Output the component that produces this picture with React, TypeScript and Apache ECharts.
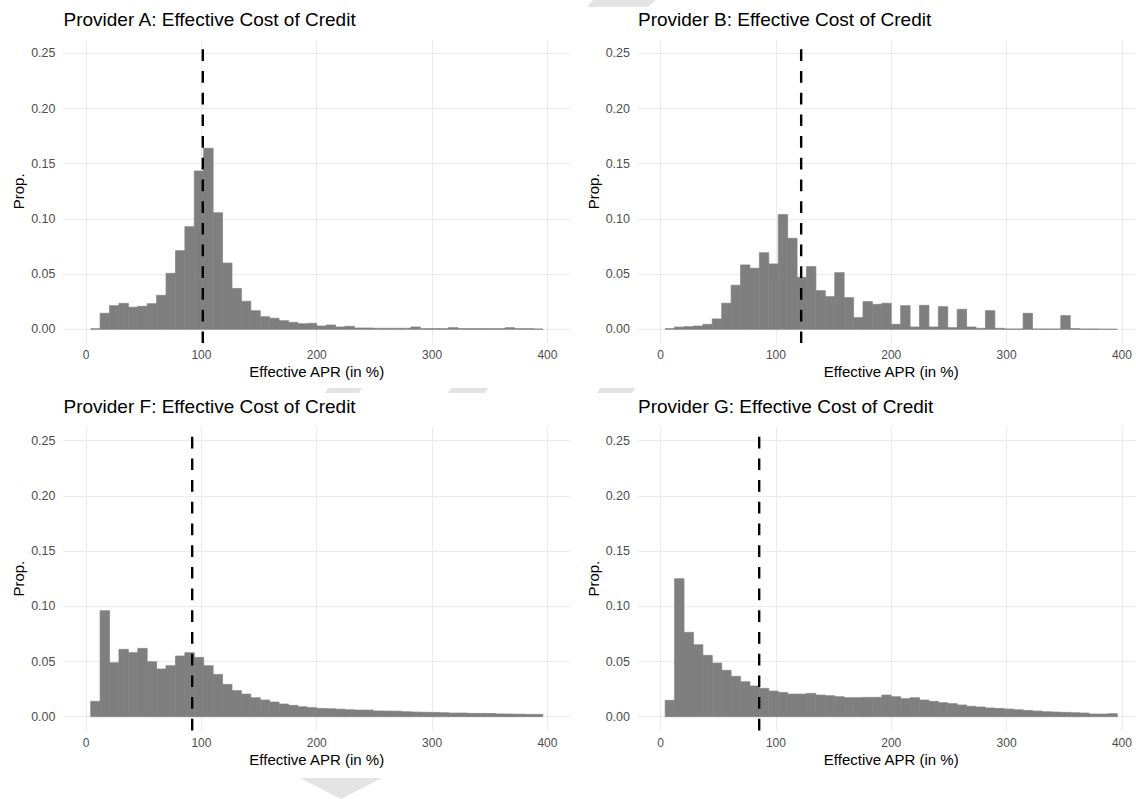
import React, { useEffect, useRef } from "react";
import * as echarts from "echarts";

// Bin edges (Effective APR, %)
const binEdges = [
  4, 12.17, 20.33, 28.5, 36.67, 44.83, 53, 61.17, 69.33, 77.5, 85.67, 93.83,
  102, 110.17, 118.33, 126.5, 134.67, 142.83, 151, 159.17, 167.33, 175.5,
  183.67, 191.83, 200, 208.17, 216.33, 224.5, 232.67, 240.83, 249, 257.17,
  265.33, 273.5, 281.67, 289.83, 298, 306.17, 314.33, 322.5, 330.67, 338.83,
  347, 355.17, 363.33, 371.5, 379.67, 387.83, 396,
];

const providerA = [
  0.0005, 0.0145, 0.0214, 0.0235, 0.02, 0.0208, 0.0232, 0.0308, 0.0507, 0.0712,
  0.093, 0.1434, 0.164, 0.1056, 0.06, 0.037, 0.0254, 0.0169, 0.0114, 0.01,
  0.0078, 0.0063, 0.005, 0.0054, 0.003, 0.0039, 0.0021, 0.0027, 0.0012, 0.0012,
  0.0009, 0.0009, 0.0009, 0.0009, 0.0021, 0.0006, 0.0006, 0.0006, 0.0015, 0.0006,
  0.0006, 0.0006, 0.0006, 0.0006, 0.0015, 0.0006, 0.0006, 0.0003,
];
const providerB = [
  0.0006, 0.002, 0.0024, 0.003, 0.0045, 0.0094, 0.0236, 0.0399, 0.0583, 0.0553,
  0.0694, 0.0592, 0.1039, 0.0824, 0.0471, 0.0568, 0.035, 0.0296, 0.0513, 0.0287,
  0.0106, 0.0251, 0.0226, 0.0236, 0.0045, 0.0214, 0.0021, 0.0217, 0.0021, 0.0205,
  0.0015, 0.0181, 0.0021, 0.0009, 0.0169, 0.0009, 0.0003, 0.0003, 0.0145, 0.0003,
  0.0003, 0.0003, 0.0124, 0.0006, 0.0003, 0.0003, 0.0001, 0.0001,
];
const providerF = [
  0.0139, 0.096, 0.0489, 0.061, 0.058, 0.0619, 0.0498, 0.0432, 0.0462, 0.055,
  0.058, 0.0537, 0.0462, 0.0383, 0.0293, 0.0236, 0.0205, 0.0172, 0.0151, 0.0133,
  0.0115, 0.0103, 0.009, 0.0082, 0.0075, 0.0072, 0.0068, 0.0063, 0.006, 0.006,
  0.0052, 0.0051, 0.005, 0.0045, 0.0042, 0.004, 0.0039, 0.0036, 0.0033, 0.0033,
  0.003, 0.003, 0.0029, 0.0025, 0.0024, 0.0023, 0.0021, 0.0021,
];
const providerG = [
  0.0148, 0.125, 0.0764, 0.0652, 0.0556, 0.0486, 0.042, 0.0365, 0.0317, 0.0278,
  0.0257, 0.0232, 0.022, 0.0205, 0.0205, 0.0211, 0.0196, 0.019, 0.0181, 0.0172,
  0.0172, 0.0175, 0.0175, 0.0196, 0.0181, 0.0163, 0.0172, 0.0151, 0.0139, 0.0127,
  0.0118, 0.0106, 0.0094, 0.0088, 0.0079, 0.0075, 0.0069, 0.0063, 0.0057, 0.0051,
  0.0045, 0.0042, 0.0039, 0.0036, 0.0033, 0.0024, 0.0024, 0.0027,
];

const titles = [
  "Provider A: Effective Cost of Credit",
  "Provider B: Effective Cost of Credit",
  "Provider F: Effective Cost of Credit",
  "Provider G: Effective Cost of Credit",
];
const medians = [101.2, 121.9, 92.0, 85.5];
const seriesValues = [providerA, providerB, providerF, providerG];

const xLabelName = "Effective APR (in %)";
const yLabelName = "Prop.";

const FONT = "'Liberation Sans', Arial, Helvetica, sans-serif";

export default function App() {
  const ref = useRef<HTMLDivElement>(null);

  useEffect(() => {
    if (!ref.current) return;
    const chart = echarts.init(ref.current, undefined, { renderer: "svg" });

    const pxPerUnit = 1.1534;
    const panelW = 507.5;
    const panelH = 303.6;
    const yPx = 1104;
    const lefts = [63, 637.5, 63, 637.5];
    const tops = [39.5, 39.5, 426.9, 426.9];

    const grids: any[] = [];
    const xAxes: any[] = [];
    const yAxes: any[] = [];
    const series: any[] = [];
    const titleComps: any[] = [];

    for (let k = 0; k < 4; k++) {
      const L = lefts[k];
      const T = tops[k];
      grids.push({
        left: L + 20 * pxPerUnit,
        top: T,
        width: 400 * pxPerUnit,
        height: panelH,
        containLabel: false,
      });
      grids.push({
        left: L,
        top: T + 0.0125 * yPx,
        width: panelW,
        height: 0.25 * yPx,
        containLabel: false,
      });
      const gV = 2 * k;
      const gH = 2 * k + 1;
      xAxes.push({
        gridIndex: gV,
        type: "value",
        min: 0,
        max: 400,
        interval: 100,
        axisLine: { show: false },
        axisTick: { show: false },
        splitLine: { show: true, lineStyle: { color: "#ebebeb", width: 1.1 } },
        axisLabel: { color: "#4d4d4d", fontSize: 12, margin: 6, fontFamily: FONT },
        name: xLabelName,
        nameLocation: "middle",
        nameGap: 21,
        nameTextStyle: { color: "#000", fontSize: 15, fontFamily: FONT },
      });
      xAxes.push({ gridIndex: gH, type: "value", min: 0, max: 1, show: false });
      yAxes.push({ gridIndex: gV, type: "value", min: -0.0125, max: 0.2625, show: false });
      yAxes.push({
        gridIndex: gH,
        type: "value",
        min: 0,
        max: 0.25,
        interval: 0.05,
        axisLine: { show: false },
        axisTick: { show: false },
        splitLine: { show: true, lineStyle: { color: "#ebebeb", width: 1.1 } },
        axisLabel: {
          color: "#4d4d4d",
          fontSize: 12.5,
          margin: 7.5,
          fontFamily: FONT,
          formatter: (v: number) => v.toFixed(2),
        },
        name: yLabelName,
        nameLocation: "middle",
        nameRotate: 90,
        nameGap: 37,
        nameTextStyle: { color: "#000", fontSize: 15, fontFamily: FONT },
      });

      const vals = seriesValues[k];
      series.push({
        type: "custom",
        xAxisIndex: gV,
        yAxisIndex: gV,
        encode: { x: [0, 1], y: 2 },
        data: vals.map((v, i) => [binEdges[i], binEdges[i + 1], v]),
        renderItem: (params: any, api: any) => {
          const s = api.value(0);
          const e = api.value(1);
          const v = api.value(2);
          const p0 = api.coord([s, v]);
          const p1 = api.coord([e, 0]);
          return {
            type: "rect",
            shape: { x: p0[0], y: p0[1], width: p1[0] - p0[0], height: p1[1] - p0[1] },
            style: { fill: "#7f7f7f", stroke: "#7f7f7f", lineWidth: 0.7 },
          };
        },
        z: 2,
      });
      series.push({
        type: "line",
        xAxisIndex: gV,
        yAxisIndex: gV,
        data: [
          [medians[k], -0.0125],
          [medians[k], 0.2625],
        ],
        symbol: "none",
        lineStyle: { color: "#000", width: 2.4, type: [11.7, 10], cap: "butt" },
        z: 5,
        silent: true,
      });

      titleComps.push({
        text: titles[k],
        left: L + 0.5,
        top: T - 30,
        padding: 0,
        textStyle: { color: "#000", fontSize: 19, fontWeight: "normal", fontFamily: FONT },
      });
    }

    const shade = "#e4e4e4";
    const graphics: any[] = [
      { type: "polygon", silent: true, z: -1, shape: { points: [[593, 0], [656, 0], [648, 7], [587, 7]] }, style: { fill: shade } },
      { type: "polygon", silent: true, z: -1, shape: { points: [[328, 388], [362, 388], [359, 393], [325, 393]] }, style: { fill: shade } },
      { type: "polygon", silent: true, z: -1, shape: { points: [[451, 388], [488, 388], [485, 393], [448, 393]] }, style: { fill: shade } },
      { type: "polygon", silent: true, z: -1, shape: { points: [[600, 388], [635, 388], [632, 393], [597, 393]] }, style: { fill: shade } },
      { type: "polygon", silent: true, z: -1, shape: { points: [[300, 778], [382, 778], [341, 799]] }, style: { fill: shade } },
    ];

    chart.setOption({
      animation: false,
      backgroundColor: "#ffffff",
      textStyle: { fontFamily: FONT },
      title: titleComps,
      grid: grids,
      xAxis: xAxes,
      yAxis: yAxes,
      series,
      graphic: graphics,
    });

    return () => chart.dispose();
  }, []);

  return (
    <div
      ref={ref}
      style={{ position: "absolute", left: 0, top: 0, width: 1136, height: 799, background: "#fff" }}
    />
  );
}
